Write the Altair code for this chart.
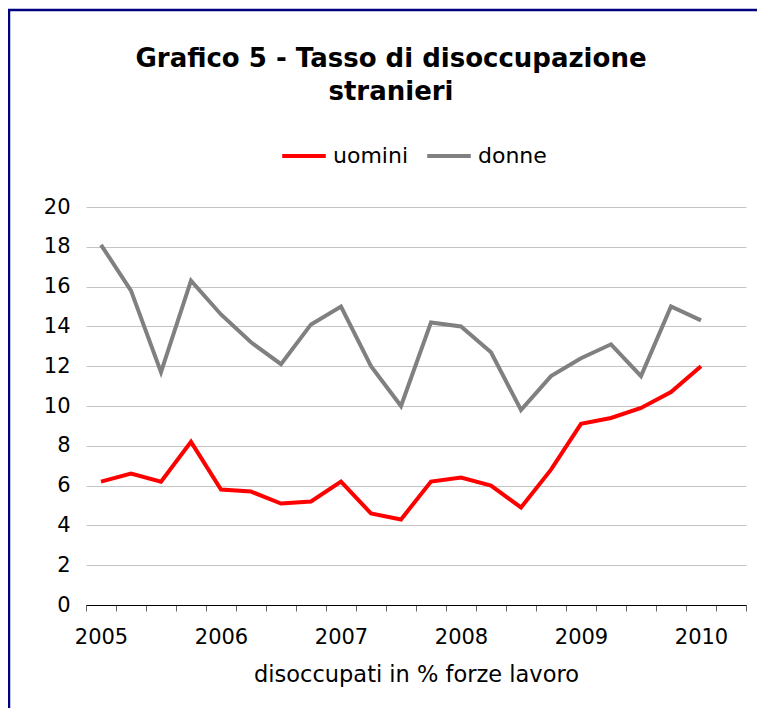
import altair as alt
import pandas as pd

periods = [f"{y} T{q}" for y in range(2005, 2011) for q in range(1, 5)][:22]
uomini = [6.2, 6.6, 6.2, 8.2, 5.8, 5.7, 5.1, 5.2, 6.2, 4.6, 4.3, 6.2, 6.4, 6.0, 4.9, 6.8, 9.1, 9.4, 9.9, 10.7, 12.0]
donne = [18.1, 15.8, 11.7, 16.3, 14.6, 13.2, 12.1, 14.1, 15.0, 12.0, 10.0, 14.2, 14.0, 12.7, 9.8, 11.5, 12.4, 13.1, 11.5, 15.0, 14.3]
series = ["uomini", "donne"]
colors = ["#ff0000", "#808080"]
y_ticks = list(range(0, 21, 2))
title_text = "Grafico 5 - Tasso di disoccupazione\nstranieri"
x_title = "disoccupati in % forze lavoro"

rows = []
for i, v in enumerate(uomini):
    rows.append({"periodo": periods[i], "serie": "uomini", "valore": v})
for i, v in enumerate(donne):
    rows.append({"periodo": periods[i], "serie": "donne", "valore": v})
df = pd.DataFrame(rows)

FONT = "DejaVu Sans"

lines = alt.Chart(df).mark_line(strokeWidth=4, strokeJoin="miter").encode(
    x=alt.X(
        "periodo:N",
        sort=periods,
        scale=alt.Scale(type="band", domain=periods, paddingInner=0, paddingOuter=0),
        axis=alt.Axis(
            title=x_title,
            labelExpr="substring(datum.value, 5) == 'T1' ? substring(datum.value, 0, 4) : ''",
            labelAngle=0,
            labelOverlap=False,
            tickBand="extent",
            tickSize=6,
            tickColor="#666666",
            domainColor="#000000",
            labelFont=FONT,
            labelFontSize=21,
            labelColor="#000000",
            labelPadding=15,
            titleFont=FONT,
            titleFontSize=22.5,
            titleFontWeight="normal",
            titleColor="#000000",
            titlePadding=16,
            grid=False,
        ),
    ),
    y=alt.Y(
        "valore:Q",
        scale=alt.Scale(domain=[0, 20], nice=False),
        axis=alt.Axis(
            title=None,
            values=y_ticks,
            domain=False,
            ticks=False,
            labelFont=FONT,
            labelFontSize=21,
            labelColor="#000000",
            labelPadding=16,
            gridColor="#c4c4c4",
            gridWidth=1,
        ),
    ),
    color=alt.Color(
        "serie:N",
        sort=series,
        scale=alt.Scale(domain=series, range=colors),
        legend=alt.Legend(
            title=None,
            orient="none",
            legendX=194,
            legendY=-75,
            direction="horizontal",
            symbolType="stroke",
            symbolStrokeWidth=4,
            symbolSize=1900,
            labelFont=FONT,
            labelFontSize=22,
            labelColor="#000000",
            labelOffset=5,
            columnPadding=10,
        ),
    ),
)

title_df = pd.DataFrame({"t": [title_text]})
title = alt.Chart(title_df).mark_text(
    font=FONT, fontWeight="bold", fontSize=26, align="center", baseline="alphabetic",
    lineBreak="\n", lineHeight=33, color="#000000",
).encode(x=alt.value(305), y=alt.value(-140), text="t:N")

frame_df = pd.DataFrame({"k": [0]})
frame = alt.Chart(frame_df).mark_rect(filled=False, stroke="#000080", strokeWidth=2.5).encode(
    x=alt.value(-77), x2=alt.value(760), y=alt.value(-197), y2=alt.value(600)
)

chart = alt.layer(frame, lines, title).properties(
    width=660,
    height=398,
    autosize=alt.AutoSizeParams(type="none"),
    padding={"left": 78, "top": 199, "right": 11, "bottom": 103},
    background="white",
).configure_view(stroke=None)

chart.save("out.html", embed_options={"renderer": "svg", "actions": False})
